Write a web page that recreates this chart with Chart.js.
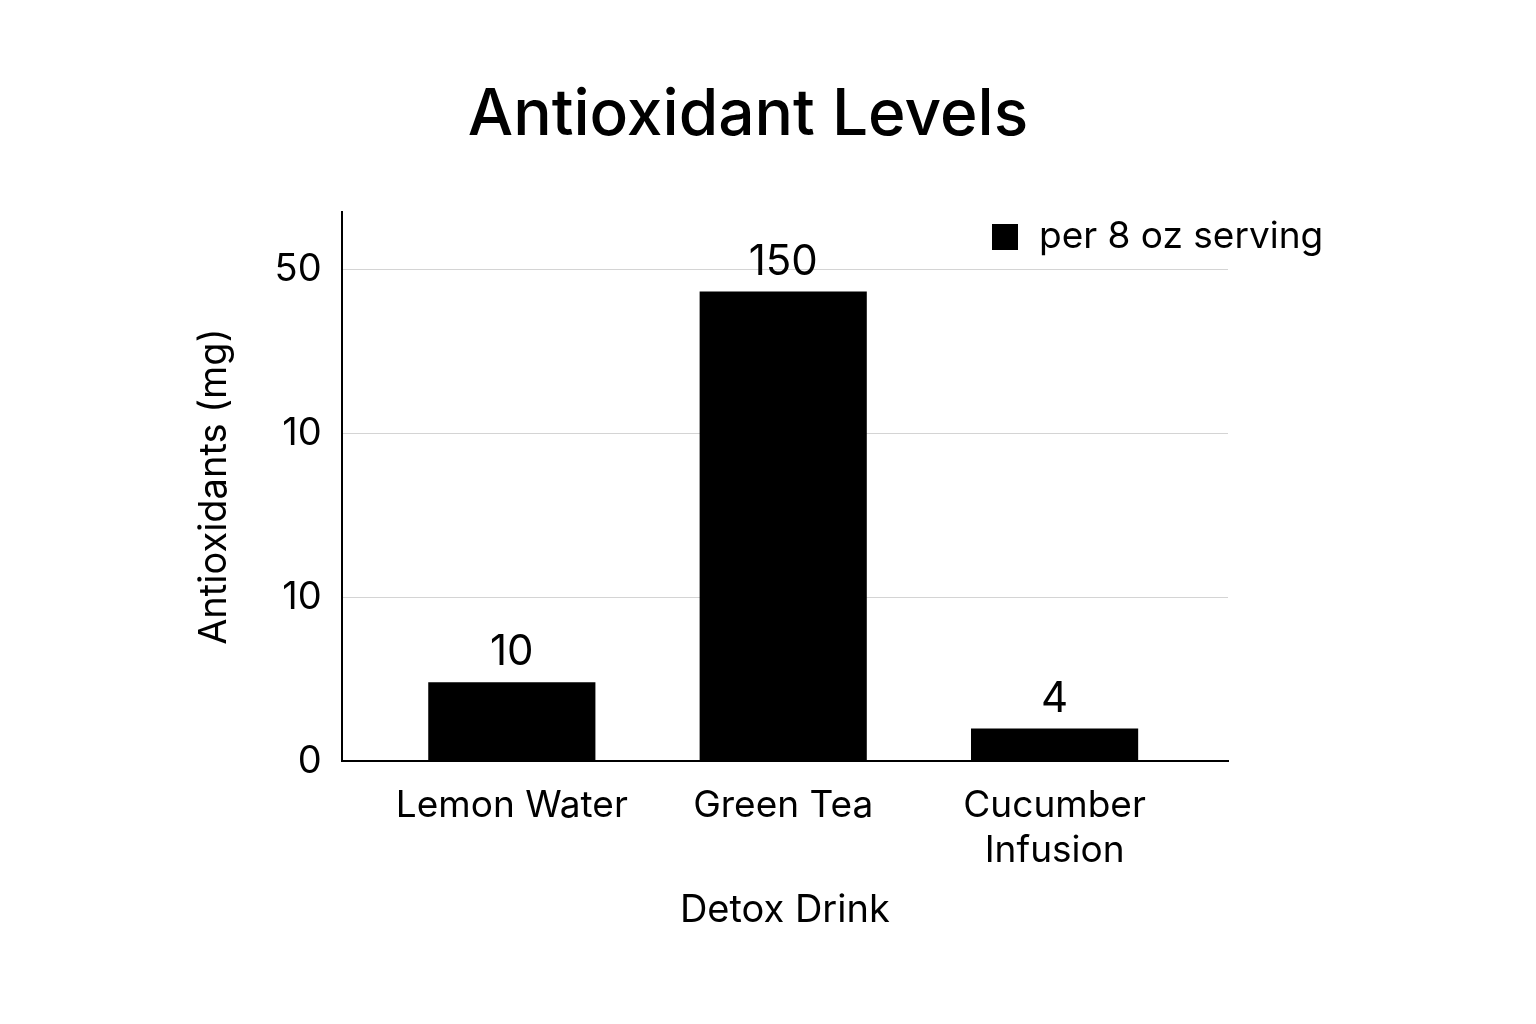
<!DOCTYPE html>
<html>
<head>
<meta charset="utf-8">
<script src="https://cdn.jsdelivr.net/npm/chart.js@4.4.1/dist/chart.umd.min.js"></script>
<style>
  html, body { margin: 0; padding: 0; background: #fff; }
  #wrap { width: 1536px; height: 1024px; }
</style>
</head>
<body>
<div id="wrap"><canvas id="chart"></canvas></div>
<script>
// dane
const categories = ['Lemon Water', 'Green Tea', ['Cucumber', 'Infusion']]
const barHeights = [0.483, 2.865, 0.2]      // wysokosc słupka w jednostkach osi (odstęp siatki = 1)
const valueLabels = ['10', '150', '4']      // liczby nad słupkami
const yTickLabels = ['0', '10', '10', '50'] // etykiety osi Y (tak jak na obrazku)
const chartTitle = 'Antioxidant Levels'
const legendText = 'per 8 oz serving'

const chartCanvas = document.getElementById('chart')
const FONT = 'Inter, "Noto Sans", sans-serif'

// tytuł - trochę na lewo od środka, jak w oryginale
const titlePlugin = {
  id: 'bigTitle',
  afterDraw(chart) {
    const ctx = chart.ctx
    ctx.save()
    ctx.fillStyle = '#000'
    ctx.font = '500 64px ' + FONT
    ctx.textAlign = 'center'
    ctx.textBaseline = 'alphabetic'
    ctx.fillText(chartTitle, chart.width / 2 - 20, 135)
    ctx.restore()
  }
}

// napisy nad słupkami
const valueLabelPlugin = {
  id: 'valueLabels',
  afterDatasetsDraw(chart) {
    const ctx = chart.ctx
    const meta = chart.getDatasetMeta(0)
    ctx.save()
    ctx.fillStyle = '#000'
    ctx.font = '400 42px ' + FONT
    ctx.textAlign = 'center'
    ctx.textBaseline = 'alphabetic'
    meta.data.forEach((bar, i) => {
      ctx.fillText(valueLabels[i], bar.x, bar.y - 17)
    })
    ctx.restore()
  }
}

// legenda w prawym górnym rogu
const legendPlugin = {
  id: 'boxLegend',
  afterDraw(chart) {
    const ctx = chart.ctx
    const area = chart.chartArea
    ctx.save()
    ctx.fillStyle = '#000'
    ctx.fillRect(area.right - 236, area.top + 12, 26, 26)
    ctx.font = '400 37px ' + FONT
    ctx.textAlign = 'left'
    ctx.textBaseline = 'middle'
    ctx.fillText(legendText, area.right - 189, area.top + 25)
    ctx.restore()
  }
}

let chart = new Chart(chartCanvas, {
  type: 'bar',
  data: {
    datasets: [{
      label: legendText,
      data: barHeights.map((h, i) => ({ x: i, y: h })),
      backgroundColor: '#000',
      borderWidth: 0,
      categoryPercentage: 1,
      barPercentage: 0.616
    }]
  },
  plugins: [titlePlugin, valueLabelPlugin, legendPlugin],
  options: {
    responsive: true,
    maintainAspectRatio: false,
    animation: false,
    layout: { padding: { left: 190, right: 308, top: 212, bottom: 87 } },
    plugins: {
      legend: { display: false },
      tooltip: { enabled: false },
      title: { display: false }
    },
    scales: {
      x: {
        type: 'linear',
        offset: false,
        min: -0.627,
        max: 2.639,
        afterBuildTicks: (scale) => { scale.ticks = categories.map((c, i) => ({ value: i })) },
        ticks: {
          color: '#000',
          font: { family: FONT, size: 37, lineHeight: 1.19 },
          padding: 15,
          maxRotation: 0,
          autoSkip: false,
          callback: (value) => categories[value]
        },
        grid: { display: false, offset: false },
        border: { display: true, color: '#000', width: 2 },
        title: {
          display: true,
          text: 'Detox Drink',
          color: '#000',
          font: { family: FONT, size: 38 },
          padding: { top: 0, bottom: 4 }
        }
      },
      y: {
        min: 0,
        max: 3.35,
        afterBuildTicks: (scale) => { scale.ticks = yTickLabels.map((t, i) => ({ value: i })) },
        ticks: {
          color: '#000',
          font: { family: FONT, size: 38 },
          padding: 20,
          callback: (value, index) => yTickLabels[index]
        },
        grid: {
          drawTicks: false,
          color: (ctx) => ctx.tick && ctx.tick.value === 0 ? 'rgba(0,0,0,0)' : '#d4d4d4',
          lineWidth: 1
        },
        border: { display: true, color: '#000', width: 2 },
        title: {
          display: true,
          text: 'Antioxidants (mg)',
          color: '#000',
          font: { family: FONT, size: 38 },
          padding: { top: 2, bottom: 17 }
        }
      }
    }
  }
})
</script>
</body>
</html>
